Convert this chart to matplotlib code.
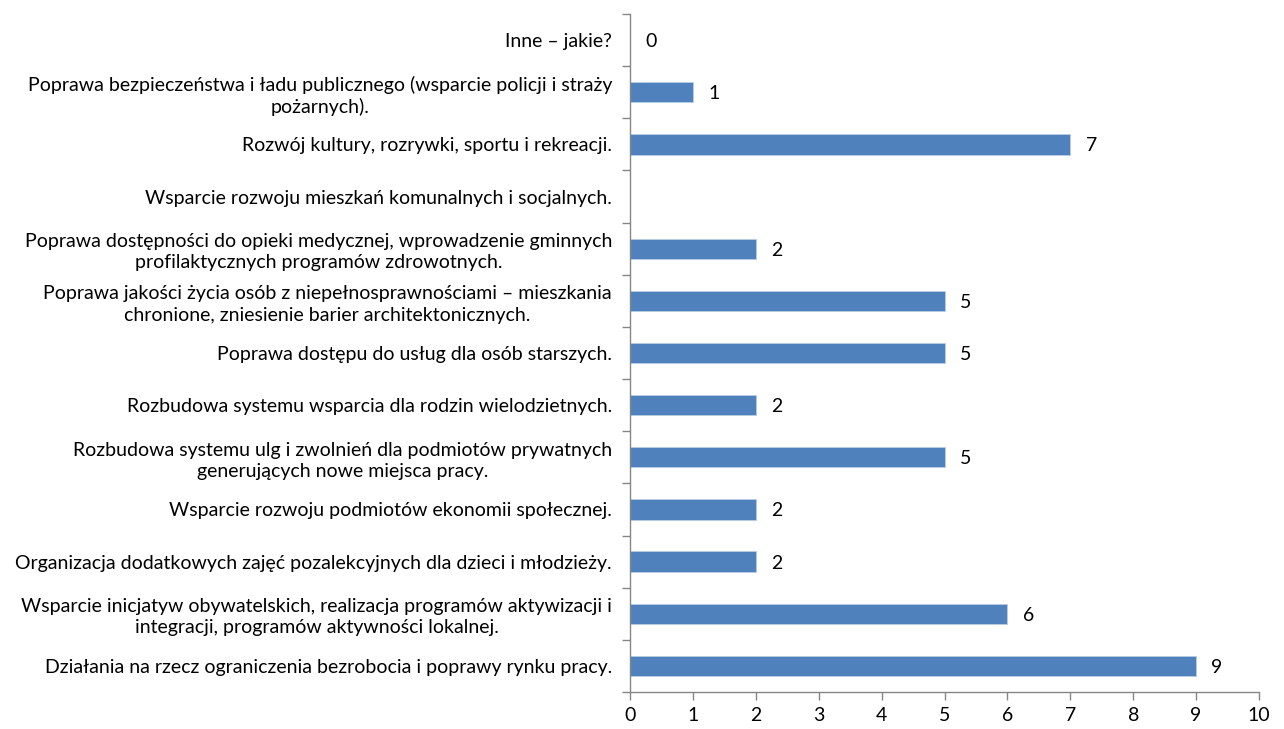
import matplotlib
matplotlib.use("Agg")
import matplotlib.pyplot as plt
import numpy as np

categories = [
    "Działania na rzecz ograniczenia bezrobocia i poprawy rynku pracy.",
    "Wsparcie inicjatyw obywatelskich, realizacja programów aktywizacji i\nintegracji, programów aktywności lokalnej.",
    "Organizacja dodatkowych zajęć pozalekcyjnych dla dzieci i młodzieży.",
    "Wsparcie rozwoju podmiotów ekonomii społecznej.",
    "Rozbudowa systemu ulg i zwolnień dla podmiotów prywatnych\ngenerujących nowe miejsca pracy.",
    "Rozbudowa systemu wsparcia dla rodzin wielodzietnych.",
    "Poprawa dostępu do usług dla osób starszych.",
    "Poprawa jakości życia osób z niepełnosprawnościami – mieszkania\nchronione, zniesienie barier architektonicznych.",
    "Poprawa dostępności do opieki medycznej, wprowadzenie gminnych\nprofilaktycznych programów zdrowotnych.",
    "Wsparcie rozwoju mieszkań komunalnych i socjalnych.",
    "Rozwój kultury, rozrywki, sportu i rekreacji.",
    "Poprawa bezpieczeństwa i ładu publicznego (wsparcie policji i straży\npożarnych).",
    "Inne – jakie?",
]
values = [9, 6, 2, 2, 5, 2, 5, 5, 2, None, 7, 1, 0]
x_ticks = list(range(0, 11))

plt.rcParams['font.family'] = ['Lato', 'DejaVu Sans']
FS = 14

fig = plt.figure(figsize=(12.84, 7.29), dpi=100)
ax = fig.add_axes([630/1284, 1-692/729, (1259-630)/1284, (692-14)/729])

y = np.arange(len(categories))
vals = np.array([np.nan if v is None else v for v in values], dtype=float)
ax.barh(y, np.nan_to_num(vals), height=0.39, color="#4F81BD", edgecolor="#B9CDE5", linewidth=0.6)
for yi, v in zip(y, values):
    if v is None:
        continue
    ax.annotate(str(v), xy=(v, yi), xytext=(11, -1), textcoords="offset points",
                va="center", ha="left", fontsize=FS, color="black")

ax.set_xlim(0, 10)
ax.set_ylim(-0.5, len(categories) - 0.5)
ax.set_xticks(x_ticks)
ax.set_xticklabels([str(t) for t in x_ticks], fontsize=FS)
ax.set_yticks(y)
ax.set_yticklabels(categories, fontsize=FS, multialignment="center", linespacing=1.3)
ax.set_yticks(np.arange(-0.5, len(categories)), minor=True)
ax.tick_params(axis="y", which="major", length=0, pad=13)
ax.tick_params(axis="y", which="minor", length=6, color="#868686", width=1)
ax.tick_params(axis="x", which="major", length=6, color="#868686", width=1, pad=5)

for s in ["top", "right"]:
    ax.spines[s].set_visible(False)
for s in ["left", "bottom"]:
    ax.spines[s].set_color("#868686")
    ax.spines[s].set_linewidth(1)

fig.savefig("out.png", dpi=100)
